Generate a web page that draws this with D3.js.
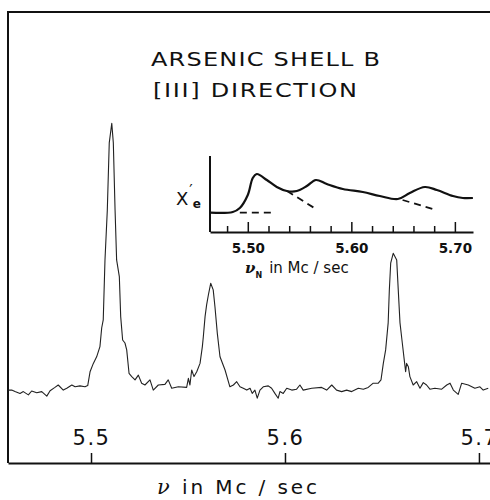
<!DOCTYPE html>
<html>
<head>
<meta charset="utf-8">
<script src="https://cdn.jsdelivr.net/npm/d3@7"></script>
<style>
  html, body { margin: 0; padding: 0; background: #fff; }
  svg { display: block; }
  text { fill: #111; }
</style>
</head>
<body>
<div id="chart"></div>
<script>
/* Hauptspektrum: Frequenz (Mc/sec) und Signal (willkürliche Einheiten) */
const mainFreq = [
  5.4574, 5.4591, 5.4608, 5.4634, 5.4651, 5.4677, 5.4694, 5.4720, 5.4746, 5.4772,
  5.4789, 5.4814, 5.4831, 5.4857, 5.4875, 5.4901, 5.4918, 5.4943, 5.4969, 5.4983,
  5.4995, 5.5012, 5.5029, 5.5046, 5.5055, 5.5063, 5.5072, 5.5084, 5.5094, 5.5107,
  5.5115, 5.5124, 5.5132, 5.5146, 5.5153, 5.5163, 5.5175, 5.5184, 5.5196, 5.5210,
  5.5227, 5.5244, 5.5261, 5.5278, 5.5304, 5.5321, 5.5347, 5.5381, 5.5398, 5.5416,
  5.5450, 5.5493, 5.5502, 5.5510, 5.5519, 5.5531, 5.5545, 5.5562, 5.5574, 5.5579,
  5.5588, 5.5596, 5.5605, 5.5617, 5.5630, 5.5639, 5.5651, 5.5665, 5.5691, 5.5716,
  5.5734, 5.5751, 5.5768, 5.5785, 5.5803, 5.5820, 5.5831, 5.5845, 5.5857, 5.5871,
  5.5888, 5.5914, 5.5931, 5.5948, 5.5965, 5.5974, 5.5991, 5.6009, 5.6035, 5.6060,
  5.6077, 5.6094, 5.6138, 5.6189, 5.6215, 5.6241, 5.6266, 5.6292, 5.6318, 5.6344,
  5.6378, 5.6404, 5.6429, 5.6455, 5.6481, 5.6495, 5.6507, 5.6519, 5.6532, 5.6538,
  5.6545, 5.6558, 5.6576, 5.6584, 5.6593, 5.6605, 5.6615, 5.6622, 5.6627, 5.6636,
  5.6644, 5.6661, 5.6679, 5.6696, 5.6713, 5.6730, 5.6747, 5.6773, 5.6808, 5.6834,
  5.6851, 5.6868, 5.6893, 5.6911, 5.6945, 5.6979, 5.7005, 5.7022, 5.7048
];
const mainSignal = [
  3.3, 3.3, 2.8, 2.2, 2.8, 1.7, 3.0, 2.4, 2.8, 1.3,
  3.1, 4.2, 5.0, 3.3, 3.9, 5.0, 4.4, 4.7, 4.4, 4.8,
  9.4, 12.2, 14.4, 17.8, 24.0, 26.7, 46.7, 63.3, 85.7, 92.2,
  85.7, 63.3, 46.7, 41.1, 27.8, 20.0, 19.0, 16.7, 8.9, 7.8,
  6.7, 8.3, 5.6, 5.0, 6.7, 3.3, 5.0, 5.2, 6.7, 3.9,
  4.4, 4.2, 7.2, 5.0, 10.0, 7.8, 9.4, 12.2, 17.8, 21.1,
  27.8, 31.7, 35.0, 38.9, 36.7, 31.1, 22.3, 14.4, 10.0, 4.4,
  5.0, 6.1, 4.4, 3.9, 3.3, 3.9, 2.2, 3.3, 0.6, 3.3,
  4.4, 4.7, 3.9, 2.2, 0.6, 2.8, 2.2, 3.9, 3.3, 3.6,
  5.0, 3.3, 3.9, 4.2, 3.3, 5.0, 3.3, 2.8, 3.3, 2.8,
  3.9, 3.6, 4.2, 5.6, 5.6, 6.7, 12.2, 16.7, 25.7, 36.7,
  45.6, 48.9, 46.7, 36.7, 25.7, 18.9, 13.3, 9.4, 12.2, 11.1,
  7.8, 5.0, 6.1, 3.9, 5.8, 5.0, 3.6, 3.9, 3.6, 5.0,
  5.6, 3.3, 1.9, 5.6, 5.0, 3.9, 4.4, 3.3, 3.9
];
const mainTicks = [5.5, 5.6, 5.7];

/* Einsatz: Dispersionskurve */
const insetFreq = [
  5.4640, 5.4855, 5.4923, 5.5000, 5.5048, 5.5087, 5.5184, 5.5280, 5.5377, 5.5473,
  5.5570, 5.5657, 5.5763, 5.5918, 5.6111, 5.6275, 5.6449, 5.6565, 5.6710, 5.6826,
  5.6981, 5.7077, 5.7174
];
const insetSignal = [
  19.3, 20, 24, 37, 54, 58, 52, 45, 41, 41,
  46, 52, 48, 43, 40, 36, 33, 39, 45, 42,
  36, 34, 34
];
const dashFreq = [[5.4923, 5.5261], [5.5379, 5.5643], [5.6495, 5.6818]];
const dashSignal = [[19.3, 19.3], [41, 24], [32, 22]];
const insetMajorTicks = [5.50, 5.60, 5.70];
const insetMinorTicks = [5.48, 5.52, 5.54, 5.56, 5.58, 5.62, 5.64, 5.66, 5.68];

const titleLines = ["ARSENIC  SHELL B", "[III]  DIRECTION"];

const width = 490, height = 500;

const svg = d3.select("#chart").append("svg")
  .attr("width", width)
  .attr("height", height);

/* Skalen des Hauptdiagramms */
const x = d3.scaleLinear().domain([5.4572, 5.7057]).range([8, 490]);
const y = d3.scaleLinear().domain([0, 100]).range([400, 100]);

/* Rahmen oben und links */
svg.append("path")
  .attr("d", `M8,463V12H490`)
  .attr("fill", "none")
  .attr("stroke", "#111")
  .attr("stroke-width", 2);

/* x-Achse mit Ticks nach oben */
const xAxis = svg.append("g")
  .attr("transform", "translate(0,463)")
  .call(d3.axisTop(x)
    .tickValues(mainTicks)
    .tickSize(10)
    .tickPadding(8)
    .tickSizeOuter(0)
    .tickFormat(d3.format(".1f")));
xAxis.select(".domain").attr("stroke", "#111").attr("stroke-width", 2);
xAxis.selectAll(".tick line").attr("stroke", "#111").attr("stroke-width", 1.5);
xAxis.selectAll(".tick text")
  .attr("fill", "#111")
  .style("font-family", "DejaVu Sans")
  .style("font-size", "21px")
  .style("letter-spacing", "1.5px");

/* Spektrum */
const mainLine = d3.line()
  .x((d, i) => x(mainFreq[i]))
  .y(d => y(d));

svg.append("path")
  .datum(mainSignal)
  .attr("d", mainLine)
  .attr("fill", "none")
  .attr("stroke", "#222")
  .attr("stroke-width", 1.1)
  .attr("stroke-linejoin", "round");

/* Titel (breite Schrift, horizontal gestreckt) */
const sx = 1.2;
svg.append("text")
  .attr("transform", `scale(${sx},1)`)
  .attr("x", 151 / sx).attr("y", 66)
  .attr("textLength", 229 / sx).attr("lengthAdjust", "spacing")
  .style("font-family", "DejaVu Sans").style("font-size", "20px")
  .text(titleLines[0]);
svg.append("text")
  .attr("transform", `scale(${sx},1)`)
  .attr("x", 153 / sx).attr("y", 97)
  .attr("textLength", 204 / sx).attr("lengthAdjust", "spacing")
  .style("font-family", "DejaVu Sans").style("font-size", "20px")
  .text(titleLines[1]);

/* Achsentitel */
const xLabel = svg.append("text")
  .attr("x", 157).attr("y", 494)
  .attr("textLength", 160).attr("lengthAdjust", "spacing")
  .style("font-family", "DejaVu Sans").style("font-size", "20px");
xLabel.append("tspan")
  .style("font-family", "DejaVu Serif").style("font-style", "italic").style("font-size", "21px")
  .text("ν");
xLabel.append("tspan").text("  in  Mc / sec");

/* Einsatzdiagramm */
const xi = d3.scaleLinear().domain([5.4635, 5.7175]).range([210, 473]);
const yi = d3.scaleLinear().domain([0, 80]).range([232, 152]);

const inset = svg.append("g");

inset.append("line")
  .attr("x1", 210).attr("x2", 210)
  .attr("y1", yi(76)).attr("y2", yi(0))
  .attr("stroke", "#111").attr("stroke-width", 2);

const minorAxis = inset.append("g")
  .attr("transform", `translate(0,${yi(0)})`)
  .call(d3.axisBottom(xi)
    .tickValues(insetMinorTicks)
    .tickSize(-6)
    .tickFormat(""));
minorAxis.select(".domain").remove();
minorAxis.selectAll(".tick line").attr("stroke", "#111").attr("stroke-width", 1.5);

const majorAxis = inset.append("g")
  .attr("transform", `translate(0,${yi(0)})`)
  .call(d3.axisBottom(xi)
    .tickValues(insetMajorTicks)
    .tickSize(-10)
    .tickPadding(11)
    .tickSizeOuter(0)
    .tickFormat(d3.format(".2f")));
majorAxis.select(".domain").attr("stroke", "#111").attr("stroke-width", 2);
majorAxis.selectAll(".tick line").attr("stroke", "#111").attr("stroke-width", 1.5);
majorAxis.selectAll(".tick text")
  .attr("fill", "#111")
  .style("font-family", "DejaVu Sans")
  .style("font-size", "13.5px")
  .style("font-weight", "bold");

const insetLine = d3.line()
  .x((d, i) => xi(insetFreq[i]))
  .y(d => yi(d))
  .curve(d3.curveCatmullRom.alpha(0.5));

inset.append("path")
  .datum(insetSignal)
  .attr("d", insetLine)
  .attr("fill", "none")
  .attr("stroke", "#111")
  .attr("stroke-width", 2.2);

/* gestrichelte Basislinien */
inset.selectAll("line.dash")
  .data(dashFreq)
  .enter().append("line")
  .attr("class", "dash")
  .attr("x1", d => xi(d[0]))
  .attr("x2", d => xi(d[1]))
  .attr("y1", (d, i) => yi(dashSignal[i][0]))
  .attr("y2", (d, i) => yi(dashSignal[i][1]))
  .attr("stroke", "#111")
  .attr("stroke-width", 1.8)
  .attr("stroke-dasharray", "7,5");

/* Beschriftung der y-Achse des Einsatzes: X' mit Index e in einem Textelement */
const yiLabel = inset.append("text")
  .attr("x", 176).attr("y", 205)
  .style("font-family", "DejaVu Sans").style("font-size", "18px");
yiLabel.append("tspan").text("X");
yiLabel.append("tspan")
  .attr("dx", 1).attr("dy", -9)
  .style("font-size", "15px")
  .text("′");
yiLabel.append("tspan")
  .attr("dx", 0).attr("dy", 12)
  .style("font-size", "12px").style("font-weight", "bold")
  .text("e");

/* Beschriftung der x-Achse des Einsatzes */
const xiLabel = inset.append("text")
  .attr("x", 245).attr("y", 273)
  .style("font-family", "DejaVu Sans").style("font-size", "15px");
xiLabel.append("tspan")
  .style("font-family", "DejaVu Serif").style("font-style", "italic").style("font-size", "15px")
  .style("font-weight", "bold")
  .text("ν");
xiLabel.append("tspan")
  .attr("dy", 5)
  .style("font-size", "8px").style("font-weight", "bold")
  .text("N");
xiLabel.append("tspan")
  .attr("dy", -5).attr("dx", 7)
  .text("in  Mc / sec");
</script>
</body>
</html>
